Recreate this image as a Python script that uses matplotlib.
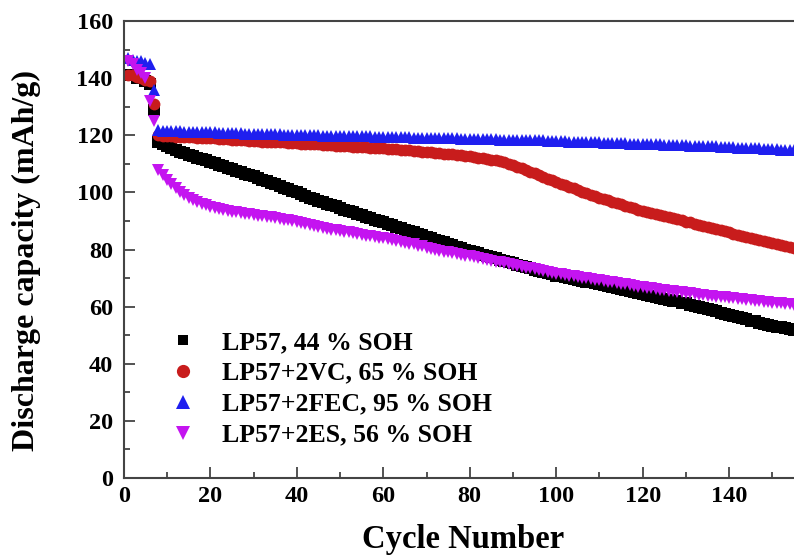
import numpy as np
import matplotlib
matplotlib.use("Agg")
import matplotlib.pyplot as plt

# discharge capacity (mAh/g) per cycle
lp57 = [141.0, 141.0, 140.0, 140.0, 139.0, 138.0, 129.0,
        117.5, 116.8, 116.1, 115.5, 114.9, 114.3, 113.7, 113.1, 112.6, 112.1,
        111.6, 111.2, 110.8, 110.2, 109.6, 109.1, 108.6, 108.1, 107.6, 107.1,
        106.6, 106.1, 105.6, 105.0, 104.5, 103.9, 103.3, 102.8, 102.2, 101.6,
        101.1, 100.5, 100.0, 99.4, 98.8, 98.2, 97.6, 97.1, 96.6, 96.1, 95.6,
        95.1, 94.6, 94.0, 93.5, 93.0, 92.5, 92.0, 91.5, 91.0, 90.5, 90.0, 89.5,
        89.0, 88.5, 88.0, 87.5, 87.0, 86.5, 86.0, 85.5, 85.0, 84.5, 84.0, 83.5,
        83.0, 82.5, 82.0, 81.5, 81.0, 80.5, 80.0, 79.6, 79.1, 78.7, 78.2, 77.8,
        77.3, 76.9, 76.5, 76.0, 75.6, 75.2, 74.7, 74.3, 73.8, 73.4, 72.9, 72.5,
        72.1, 71.7, 71.3, 70.9, 70.6, 70.3, 70.0, 69.7, 69.4, 69.1, 68.8, 68.5,
        68.2, 67.9, 67.6, 67.2, 66.9, 66.5, 66.2, 65.8, 65.5, 65.1, 64.8, 64.4,
        64.1, 63.8, 63.4, 63.1, 62.8, 62.4, 62.1, 61.8, 61.4, 61.1, 60.7, 60.3,
        59.9, 59.5, 59.1, 58.7, 58.3, 57.9, 57.5, 57.1, 56.7, 56.3, 55.9, 55.5,
        55.1, 54.8, 54.4, 54.0, 53.7, 53.3, 53.0, 52.7, 52.4, 52.1, 51.8]

lp57_vc = [141.0, 141.0, 140.5, 140.0, 139.5, 139.0, 131.0,
           120.0, 119.8, 119.7, 119.6, 119.5, 119.5, 119.4, 119.3, 119.3, 119.2,
           119.1, 119.1, 119.0, 118.9, 118.8, 118.7, 118.6, 118.5, 118.4, 118.3,
           118.2, 118.1, 118.0, 117.9, 117.8, 117.8, 117.7, 117.6, 117.5, 117.5,
           117.4, 117.3, 117.2, 117.1, 117.0, 116.9, 116.8, 116.8, 116.7, 116.6,
           116.5, 116.4, 116.3, 116.2, 116.1, 116.0, 115.9, 115.9, 115.8, 115.7,
           115.6, 115.5, 115.4, 115.3, 115.2, 115.1, 115.0, 114.8, 114.7, 114.6,
           114.5, 114.3, 114.2, 114.1, 113.9, 113.8, 113.6, 113.5, 113.3, 113.2,
           113.0, 112.8, 112.6, 112.4, 112.2, 112.0, 111.8, 111.5, 111.2, 110.9,
           110.5, 110.0, 109.5, 109.0, 108.5, 107.9, 107.3, 106.7, 106.0, 105.4,
           104.8, 104.2, 103.6, 103.0, 102.5, 101.9, 101.4, 100.8, 100.3, 99.7,
           99.2, 98.7, 98.2, 97.7, 97.2, 96.7, 96.2, 95.8, 95.3, 94.9, 94.4, 94.0,
           93.6, 93.2, 92.8, 92.5, 92.1, 91.7, 91.3, 91.0, 90.6, 90.2, 89.8, 89.5,
           89.1, 88.7, 88.3, 88.0, 87.6, 87.2, 86.8, 86.4, 86.0, 85.6, 85.2, 84.9,
           84.5, 84.1, 83.7, 83.4, 83.0, 82.6, 82.2, 81.9, 81.5, 81.1, 80.8, 80.4]

lp57_fec = [147.0, 146.5, 146.0, 146.0, 145.5, 145.0, 136.0,
            122.0, 121.6, 121.5, 121.5, 121.4, 121.4, 121.3, 121.3, 121.2, 121.2,
            121.1, 121.1, 121.0, 121.0, 120.9, 120.9, 120.8, 120.8, 120.7, 120.7,
            120.6, 120.6, 120.5, 120.5, 120.4, 120.4, 120.3, 120.3, 120.3, 120.2,
            120.2, 120.2, 120.1, 120.1, 120.1, 120.0, 120.0, 120.0, 119.9, 119.9,
            119.9, 119.8, 119.8, 119.8, 119.7, 119.7, 119.7, 119.6, 119.6, 119.6,
            119.5, 119.5, 119.5, 119.4, 119.4, 119.4, 119.3, 119.3, 119.3, 119.2,
            119.2, 119.2, 119.1, 119.1, 119.0, 119.0, 119.0, 118.9, 118.9, 118.9,
            118.8, 118.8, 118.8, 118.7, 118.7, 118.7, 118.6, 118.6, 118.6, 118.5,
            118.5, 118.5, 118.4, 118.4, 118.4, 118.3, 118.3, 118.3, 118.2, 118.2,
            118.1, 118.1, 118.0, 117.9, 117.9, 117.8, 117.8, 117.7, 117.7, 117.6,
            117.6, 117.5, 117.5, 117.4, 117.4, 117.3, 117.3, 117.2, 117.2, 117.1,
            117.1, 117.0, 117.0, 116.9, 116.9, 116.8, 116.8, 116.7, 116.7, 116.6,
            116.6, 116.5, 116.5, 116.4, 116.4, 116.3, 116.3, 116.2, 116.2, 116.1,
            116.0, 115.9, 115.9, 115.8, 115.7, 115.7, 115.6, 115.5, 115.5, 115.4,
            115.3, 115.3, 115.2, 115.1, 115.0, 115.0, 114.9, 114.8]

lp57_es = [146.0, 145.0, 143.0, 142.0, 140.0, 132.0, 125.0,
           108.0, 106.0, 104.3, 102.8, 101.4, 100.2, 99.1, 98.1, 97.3, 96.6,
           96.0, 95.5, 95.0, 94.6, 94.2, 93.9, 93.6, 93.3, 93.0, 92.8, 92.5,
           92.3, 92.1, 91.9, 91.7, 91.5, 91.3, 91.0, 90.8, 90.5, 90.2, 89.9,
           89.6, 89.2, 88.9, 88.5, 88.2, 87.8, 87.5, 87.3, 87.0, 86.7, 86.5,
           86.2, 86.0, 85.7, 85.4, 85.2, 84.9, 84.7, 84.4, 84.2, 83.9, 83.7,
           83.4, 83.1, 82.7, 82.4, 82.1, 81.8, 81.4, 81.1, 80.7, 80.3, 80.0,
           79.6, 79.3, 79.0, 78.8, 78.5, 78.2, 77.9, 77.6, 77.3, 77.0, 76.7,
           76.4, 76.1, 75.8, 75.5, 75.2, 74.9, 74.6, 74.3, 74.0, 73.7, 73.4,
           73.1, 72.8, 72.5, 72.2, 71.9, 71.6, 71.4, 71.1, 70.9, 70.6, 70.4,
           70.2, 69.9, 69.7, 69.5, 69.2, 69.0, 68.8, 68.5, 68.3, 68.1, 67.8,
           67.6, 67.3, 67.0, 66.8, 66.6, 66.4, 66.2, 66.0, 65.8, 65.6, 65.4,
           65.2, 65.0, 64.8, 64.6, 64.4, 64.2, 64.0, 63.8, 63.6, 63.5, 63.3,
           63.2, 63.0, 62.9, 62.7, 62.6, 62.4, 62.2, 62.1, 61.9, 61.7, 61.5,
           61.4, 61.2, 61.1, 60.9, 60.8, 60.6]

labels = ["LP57, 44 % SOH", "LP57+2VC, 65 % SOH",
          "LP57+2FEC, 95 % SOH", "LP57+2ES, 56 % SOH"]
colors = ["#000000", "#c81c1c", "#1f1fef", "#c414f0"]
markers = ["s", "o", "^", "v"]
legend_sizes = [7, 9.5, 10, 10]

plt.rcParams['font.family'] = ['Liberation Serif', 'DejaVu Serif']
plt.rcParams['font.weight'] = 'bold'

fig = plt.figure(figsize=(7.94, 5.57), dpi=100)
ax = fig.add_axes([0.156, 0.142, 0.844, 0.820])

for ys, c, m, lab in zip([lp57, lp57_vc, lp57_fec, lp57_es], colors, markers, labels):
    cyc = np.arange(1, len(ys) + 1)
    ax.plot(cyc, ys, linestyle='none', marker=m, color=c, markersize=8.5,
            markeredgewidth=0, label=lab)

ax.set_xlim(0, 155)
ax.set_ylim(0, 160)
ax.set_xticks(np.arange(0, 141, 20))
ax.set_yticks(np.arange(0, 161, 20))
ax.set_xticks(np.arange(10, 155, 20), minor=True)
ax.set_yticks(np.arange(10, 160, 20), minor=True)
ax.tick_params(which='both', direction='in', top=False, right=False,
               labelsize=17.5, color='#444444', width=1.3)
ax.tick_params(axis='x', pad=6)
ax.tick_params(axis='y', pad=8)
ax.tick_params(which='major', length=8)
ax.tick_params(which='minor', length=4)
for lab in ax.get_xticklabels() + ax.get_yticklabels():
    lab.set_fontweight('bold')

ax.spines['right'].set_visible(False)
for s in ['left', 'bottom', 'top']:
    ax.spines[s].set_color('#444444')
    ax.spines[s].set_linewidth(1.5)

ax.set_xlabel("Cycle Number", fontsize=23.5, fontweight='bold')
ax.set_ylabel("Discharge capacity (mAh/g)", fontsize=23, fontweight='bold')
ax.xaxis.set_label_coords(0.506, -0.102)
ax.yaxis.set_label_coords(-0.124, 0.477)

leg = ax.legend(loc='upper left', bbox_to_anchor=(0.05, 0.322), frameon=False,
                fontsize=18.5, handlelength=2.0, handletextpad=0.5,
                labelspacing=0.31, borderpad=0, borderaxespad=0)
for t, h, s in zip(leg.get_texts(), leg.legend_handles, legend_sizes):
    t.set_fontweight('bold')
    h.set_markersize(s)

fig.savefig("out.png", dpi=100)
